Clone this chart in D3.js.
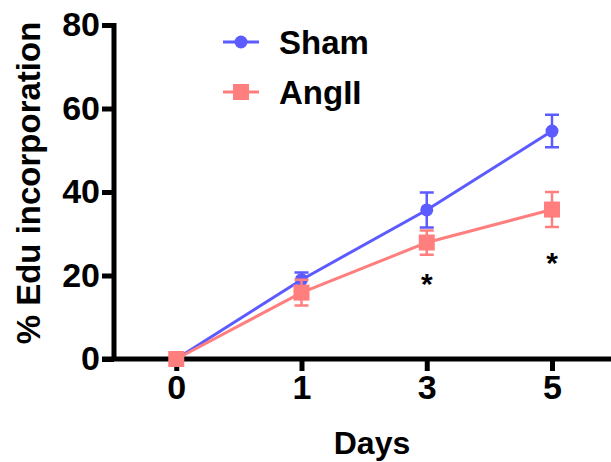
<!DOCTYPE html>
<html><head><meta charset="utf-8">
<script src="https://cdn.jsdelivr.net/npm/d3@7"></script>
<style>body{margin:0;background:#fff;} text{font-family:"Liberation Sans",Arial,sans-serif;font-weight:bold;}</style>
</head><body>
<svg id="c" width="611" height="462"></svg>
<script>
const days = ["0","1","3","5"];
const shamMean = [0, 19, 35.7, 54.6];
const shamErr = [0, 1.7, 4.2, 3.9];
const angMean = [0, 15.9, 27.9, 35.8];
const angErr = [0, 3.1, 2.9, 4.2];
const yTicks = [0, 20, 40, 60, 80];
const stars = [{day:"3", y:20}, {day:"5", y:25}];

(function(){
const svg = d3.select("#c");
const mLeft = 114, mRight = 611, mTop = 25, mBottom = 359;
const x = d3.scalePoint().domain(["-",...days]).range([51, 552]);
const y = d3.scaleLinear().domain([0, 80]).range([mBottom, mTop]);

const ya = svg.append("g").attr("transform", `translate(${mLeft},0)`)
  .call(d3.axisLeft(y).tickValues(yTicks).tickSize(12).tickPadding(2));
ya.select(".domain").attr("stroke-width", 5).attr("d", `M0,${mTop-2}V${mBottom}`);
ya.selectAll(".tick line").attr("stroke-width", 5);
ya.selectAll(".tick text").attr("font-size", 34).attr("fill","#000").attr("font-family", null);

const xa = svg.append("g").attr("transform", `translate(0,${mBottom})`)
  .call(d3.axisBottom(x).tickValues(days).tickSize(12).tickPadding(4));
xa.select(".domain").attr("stroke-width", 5).attr("d", `M${mLeft-12},0H${mRight}`);
xa.selectAll(".tick line").attr("stroke-width", 5);
xa.selectAll(".tick text").attr("font-size", 34).attr("fill","#000").attr("font-family", null);

svg.append("text").attr("x", 372).attr("y", 454).attr("text-anchor","middle")
  .attr("font-size", 32).text("Days");
svg.append("text").attr("transform", "translate(40,183) rotate(-90)").attr("text-anchor","middle")
  .attr("font-size", 33).text("% Edu incorporation");

const series = [
  {name:"Sham", mean: shamMean, err: shamErr, color:"#5b5bff", shape:"circle"},
  {name:"AngII", mean: angMean, err: angErr, color:"#ff7f7f", shape:"square"}
];
const line = d3.line().x((d,i)=>x(days[i])).y(d=>y(d));
series.forEach(s => {
  const g = svg.append("g");
  g.append("path").attr("d", line(s.mean)).attr("fill","none").attr("stroke", s.color).attr("stroke-width", 3);
  s.mean.forEach((m,i) => {
    const e = s.err[i];
    if (e > 0) {
      const cx = x(days[i]);
      g.append("path").attr("d", `M${cx},${y(m+e)}V${y(m-e)}M${cx-7},${y(m+e)}H${cx+7}M${cx-7},${y(m-e)}H${cx+7}`)
        .attr("stroke", s.color).attr("stroke-width", 2.5).attr("fill","none");
    }
  });
  s.mean.forEach((m,i) => {
    const cx = x(days[i]), cy = y(m);
    if (s.shape === "circle") g.append("circle").attr("cx", cx).attr("cy", cy).attr("r", 6.5).attr("fill", s.color);
    else g.append("rect").attr("x", cx-8).attr("y", cy-8).attr("width", 16).attr("height", 16).attr("fill", s.color);
  });
});

stars.forEach(s => {
  svg.append("text").attr("x", x(s.day)).attr("y", y(s.y)+18).attr("text-anchor","middle")
    .attr("font-size", 30).text("*");
});

const lg = svg.append("g");
series.forEach((s,i) => {
  const ly = 42 + i*50;
  lg.append("line").attr("x1", 223).attr("x2", 259).attr("y1", ly).attr("y2", ly).attr("stroke", s.color).attr("stroke-width", 3);
  if (s.shape === "circle") lg.append("circle").attr("cx", 241).attr("cy", ly).attr("r", 6.5).attr("fill", s.color);
  else lg.append("rect").attr("x", 233).attr("y", ly-8).attr("width", 16).attr("height", 16).attr("fill", s.color);
  lg.append("text").attr("x", 279).attr("y", ly+12).attr("font-size", 33).text(s.name);
});
})();
</script>
</body></html>
